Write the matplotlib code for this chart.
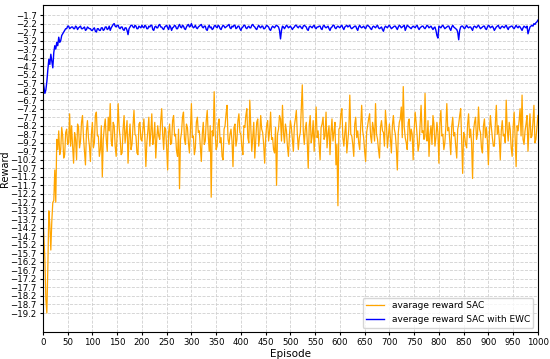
import matplotlib
matplotlib.use("Agg")
import matplotlib.pyplot as plt
import numpy as np

# episodes sampled every 2 steps (0 .. 1000)
episodes = np.arange(0, 1001, 2)

sac = [
    -13.5, -14.8, -16.0, -18.4, -19.2, -16.5, -13.2, -14.0, -15.5, -13.8,
    -12.7, -12.6, -10.8, -12.7, -9.0, -9.6, -8.5, -9.9, -9.6, -8.3,
    -8.8, -10.1, -9.9, -8.6, -8.4, -9.3, -9.2, -7.5, -9.4, -8.2,
    -9.4, -10.4, -8.6, -9.0, -10.2, -8.1, -8.3, -9.5, -9.1, -8.0,
    -7.6, -8.9, -9.7, -10.5, -8.5, -7.9, -8.9, -9.4, -10.3, -8.7,
    -8.0, -9.5, -9.2, -7.6, -7.4, -8.8, -8.8, -10.0, -9.6, -8.2,
    -11.2, -9.0, -8.3, -7.8, -9.0, -9.7, -7.7, -8.5, -6.9, -9.1,
    -9.4, -8.0, -8.2, -9.4, -10.0, -8.7, -6.9, -8.3, -8.9, -9.9,
    -9.8, -8.4, -7.6, -9.2, -8.6, -7.9, -10.4, -8.9, -8.1, -9.6,
    -9.3, -8.2, -7.3, -8.7, -8.8, -9.8, -9.9, -8.1, -8.0, -9.0,
    -9.1, -8.4, -7.8, -8.9, -10.6, -9.2, -8.5, -7.7, -9.4, -8.6,
    -7.5, -9.3, -8.9, -8.0, -10.1, -9.0, -8.2, -8.8, -9.0, -7.9,
    -7.2, -8.7, -9.6, -8.3, -8.4, -9.5, -10.8, -8.6, -8.1, -9.3,
    -9.2, -7.9, -7.6, -8.8, -8.7, -9.7, -10.0, -8.4, -11.9, -9.0,
    -8.6, -7.7, -7.4, -9.0, -9.3, -8.1, -8.3, -9.2, -9.8, -8.5,
    -6.9, -8.9, -8.8, -9.9, -9.5, -8.0, -7.7, -8.6, -8.5, -9.4,
    -10.3, -8.7, -8.0, -9.3, -9.1, -7.9, -7.3, -8.8, -9.7, -8.2,
    -12.4, -8.5, -8.8, -6.2, -8.6, -9.6, -9.4, -8.1, -7.8, -9.2,
    -8.9, -10.0, -10.2, -8.4, -8.2, -7.5, -7.0, -9.0, -9.3, -8.7,
    -8.4, -9.1, -10.6, -8.3, -8.1, -9.4, -9.0, -7.9, -7.5, -8.6,
    -8.7, -9.5, -9.9, -8.2, -8.3, -7.6, -7.2, -8.9, -9.2, -6.7,
    -8.3, -9.7, -8.8, -8.0, -10.1, -9.0, -8.0, -7.8, -9.4, -8.8,
    -7.6, -8.4, -8.6, -9.3, -10.4, -8.9, -8.2, -7.9, -9.1, -8.5,
    -7.4, -9.0, -8.9, -9.6, -9.8, -8.3, -11.7, -8.7, -8.4, -7.6,
    -7.8, -9.1, -7.0, -8.6, -9.2, -8.1, -8.5, -9.4, -10.0, -8.8,
    -7.9, -8.3, -9.0, -9.7, -8.2, -7.8, -7.3, -8.7, -9.6, -8.9,
    -8.6, -7.2, -5.8, -8.5, -9.3, -8.4, -8.0, -9.1, -10.7, -8.2,
    -7.6, -9.2, -8.8, -7.9, -9.7, -8.5, -7.1, -8.9, -8.5, -9.4,
    -10.2, -8.3, -8.1, -7.7, -9.0, -8.8, -7.4, -9.5, -8.7, -8.2,
    -9.9, -8.6, -7.8, -9.1, -8.6, -8.0, -10.5, -9.3, -12.9, -8.4,
    -8.3, -7.5, -7.2, -8.9, -9.4, -8.6, -8.0, -9.8, -9.1, -8.4,
    -6.4, -8.7, -8.8, -9.3, -10.0, -8.1, -7.7, -8.9, -8.5, -9.2,
    -9.6, -8.2, -7.0, -8.5, -8.9, -9.7, -10.3, -8.6, -8.2, -7.8,
    -7.5, -8.8, -9.2, -8.0, -8.4, -9.1, -6.9, -8.7, -9.0, -9.6,
    -10.1, -8.3, -7.9, -8.5, -8.6, -9.4, -7.3, -8.1, -9.5, -8.8,
    -8.1, -9.0, -9.8, -8.2, -7.6, -8.4, -8.7, -9.5, -10.8, -8.6,
    -8.0, -7.8, -7.1, -8.9, -5.9, -8.3, -8.9, -9.2, -9.6, -8.0,
    -7.8, -9.1, -8.4, -8.7, -10.2, -8.5, -7.4, -8.0, -8.8, -9.7,
    -9.3, -8.2, -7.0, -8.6, -8.5, -9.0, -6.3, -8.8, -9.1, -7.9,
    -10.0, -8.7, -8.2, -9.3, -7.6, -8.1, -9.4, -8.9, -8.0, -8.6,
    -10.4, -8.0, -7.3, -8.8, -8.7, -9.6, -9.2, -8.3, -6.9, -8.5,
    -8.3, -9.1, -9.9, -8.2, -7.7, -8.8, -8.6, -9.4, -10.1, -8.4,
    -8.1, -7.6, -7.2, -9.0, -11.0, -8.6, -8.8, -9.3, -9.5, -8.1,
    -7.5, -8.9, -8.4, -9.2, -11.3, -8.5, -8.0, -7.7, -9.0, -8.7,
    -7.1, -8.4, -8.6, -9.5, -9.8, -8.2, -7.8, -8.9, -8.3, -9.1,
    -10.5, -8.6, -7.6, -8.3, -8.9, -9.4, -9.4, -8.1, -7.0, -8.7,
    -8.2, -9.0, -10.2, -8.5, -7.9, -8.8, -8.7, -9.2, -6.7, -8.4,
    -9.1, -8.0, -8.4, -9.5, -10.0, -8.3, -7.4, -8.9, -10.6, -8.2,
    -8.5, -7.9, -7.2, -8.8, -6.4, -9.0, -9.3, -8.5, -8.1, -7.6,
    -9.7, -8.4, -7.5, -8.9, -8.8, -8.0, -7.0, -9.2, -9.0, -8.3,
    -7.6,
]

sac_ewc = [
    -5.5, -5.9, -6.3, -6.1, -5.6, -4.9, -4.3, -4.6, -4.0, -4.4,
    -4.8, -3.9, -3.5, -3.7, -3.3, -3.5, -3.0, -3.3, -3.2, -2.9,
    -2.8, -2.7, -2.6, -2.5, -2.5, -2.35, -2.35, -2.5, -2.45, -2.4,
    -2.4, -2.5, -2.5, -2.35, -2.4, -2.55, -2.45, -2.4, -2.35, -2.5,
    -2.5, -2.45, -2.4, -2.6, -2.55, -2.4, -2.45, -2.5, -2.5, -2.6,
    -2.6, -2.5, -2.45, -2.65, -2.7, -2.5, -2.5, -2.6, -2.6, -2.45,
    -2.45, -2.6, -2.55, -2.4, -2.4, -2.55, -2.5, -2.35, -2.6, -2.45,
    -2.35, -2.25, -2.2, -2.35, -2.4, -2.3, -2.3, -2.45, -2.5, -2.4,
    -2.4, -2.55, -2.6, -2.45, -2.45, -2.6, -2.85, -2.5, -2.4, -2.3,
    -2.3, -2.4, -2.45, -2.3, -2.35, -2.5, -2.5, -2.35, -2.4, -2.45,
    -2.3, -2.4, -2.45, -2.3, -2.35, -2.5, -2.5, -2.35, -2.4, -2.3,
    -2.3, -2.55, -2.6, -2.4, -2.35, -2.45, -2.45, -2.3, -2.25, -2.4,
    -2.4, -2.5, -2.55, -2.4, -2.35, -2.3, -2.45, -2.55, -2.3, -2.4,
    -2.6, -2.45, -2.4, -2.3, -2.35, -2.5, -2.5, -2.35, -2.25, -2.4,
    -2.45, -2.3, -2.35, -2.5, -2.55, -2.4, -2.3, -2.25, -2.4, -2.35,
    -2.2, -2.35, -2.45, -2.4, -2.3, -2.45, -2.5, -2.4, -2.35, -2.3,
    -2.25, -2.4, -2.45, -2.35, -2.35, -2.55, -2.6, -2.4, -2.3, -2.45,
    -2.4, -2.55, -2.5, -2.35, -2.3, -2.4, -2.45, -2.3, -2.35, -2.5,
    -2.55, -2.4, -2.3, -2.35, -2.45, -2.4, -2.35, -2.3, -2.25, -2.45,
    -2.5, -2.35, -2.4, -2.3, -2.3, -2.5, -2.45, -2.35, -2.35, -2.5,
    -2.6, -2.45, -2.4, -2.3, -2.3, -2.45, -2.5, -2.4, -2.35, -2.45,
    -2.45, -2.3, -2.25, -2.35, -2.4, -2.5, -2.55, -2.4, -2.3, -2.4,
    -2.45, -2.35, -2.35, -2.5, -2.5, -2.4, -2.3, -2.35, -2.4, -2.55,
    -2.6, -2.45, -2.35, -2.4, -2.45, -2.35, -2.3, -2.35, -2.4, -2.6,
    -3.1, -2.6, -2.35, -2.4, -2.5, -2.4, -2.3, -2.35, -2.45, -2.4,
    -2.35, -2.45, -2.55, -2.45, -2.4, -2.3, -2.3, -2.4, -2.45, -2.35,
    -2.35, -2.45, -2.5, -2.35, -2.3, -2.35, -2.4, -2.55, -2.6, -2.4,
    -2.35, -2.4, -2.45, -2.35, -2.3, -2.45, -2.5, -2.4, -2.4, -2.35,
    -2.35, -2.5, -2.55, -2.35, -2.3, -2.4, -2.45, -2.4, -2.35, -2.5,
    -2.6, -2.45, -2.4, -2.3, -2.3, -2.45, -2.5, -2.4, -2.35, -2.4,
    -2.45, -2.35, -2.3, -2.45, -2.55, -2.4, -2.35, -2.3, -2.4, -2.35,
    -2.3, -2.45, -2.5, -2.45, -2.4, -2.35, -2.35, -2.5, -2.6, -2.4,
    -2.3, -2.4, -2.45, -2.4, -2.35, -2.45, -2.5, -2.35, -2.3, -2.35,
    -2.4, -2.5, -2.55, -2.4, -2.35, -2.4, -2.45, -2.35, -2.3, -2.45,
    -2.5, -2.45, -2.4, -2.55, -2.65, -2.45, -2.35, -2.4, -2.45, -2.35,
    -2.3, -2.4, -2.5, -2.45, -2.4, -2.35, -2.35, -2.45, -2.55, -2.4,
    -2.3, -2.35, -2.45, -2.4, -2.35, -2.3, -2.6, -2.45, -2.3, -2.35,
    -2.4, -2.45, -2.5, -2.4, -2.35, -2.4, -2.45, -2.35, -2.3, -2.45,
    -2.55, -2.45, -2.4, -2.35, -2.35, -2.45, -2.5, -2.4, -2.3, -2.35,
    -2.45, -2.4, -2.35, -2.45, -2.55, -2.45, -2.4, -2.6, -2.9, -3.05,
    -2.35, -2.4, -2.45, -2.35, -2.3, -2.4, -2.5, -2.45, -2.4, -2.35,
    -2.35, -2.5, -2.6, -2.4, -2.3, -2.4, -2.45, -2.5, -2.55, -2.7,
    -3.15, -2.6, -2.4, -2.35, -2.35, -2.45, -2.5, -2.4, -2.3, -2.4,
    -2.45, -2.4, -2.4, -2.5, -2.6, -2.4, -2.35, -2.4, -2.45, -2.35,
    -2.3, -2.4, -2.5, -2.45, -2.4, -2.35, -2.35, -2.5, -2.55, -2.4,
    -2.3, -2.35, -2.45, -2.4, -2.35, -2.45, -2.6, -2.5, -2.4, -2.35,
    -2.3, -2.45, -2.5, -2.4, -2.35, -2.4, -2.45, -2.35, -2.3, -2.45,
    -2.55, -2.4, -2.4, -2.35, -2.35, -2.45, -2.5, -2.4, -2.3, -2.4,
    -2.45, -2.35, -2.4, -2.5, -2.6, -2.45, -2.35, -2.4, -2.45, -2.35,
    -2.8, -2.6, -2.4, -2.35, -2.3, -2.35, -2.2, -2.25, -2.15, -2.1,
    -2.0,
]

y_ticks = np.round(np.arange(-19.2, -1.6, 0.5), 1)
x_ticks = np.arange(0, 1001, 50)

fig, ax = plt.subplots(figsize=(5.5, 3.59), dpi=100)
plt.subplots_adjust(left=0.078, right=0.978, top=0.986, bottom=0.075)

ax.plot(episodes, sac, color='orange', lw=0.9, label='avarage reward SAC')
ax.plot(episodes, sac_ewc, color='blue', lw=1.0, label='average reward SAC with EWC')

ax.set_xlim(0, 1000)
ax.set_ylim(-20.32, -1.11)
ax.set_xticks(x_ticks)
ax.set_yticks(y_ticks, [f"\u2212{abs(v):.1f}" for v in y_ticks])
ax.tick_params(labelsize=6.2, length=2.5, pad=2)

ax.grid(True, linestyle='--', color='#d0d0d0', linewidth=0.6)
ax.set_xlabel('Episode', fontsize=7.5, labelpad=1)
ax.set_ylabel('Reward', fontsize=7)
ax.yaxis.set_label_coords(-0.066, 0.5)
ax.legend(loc='lower right', fontsize=6.5)

fig.savefig('out.png')
